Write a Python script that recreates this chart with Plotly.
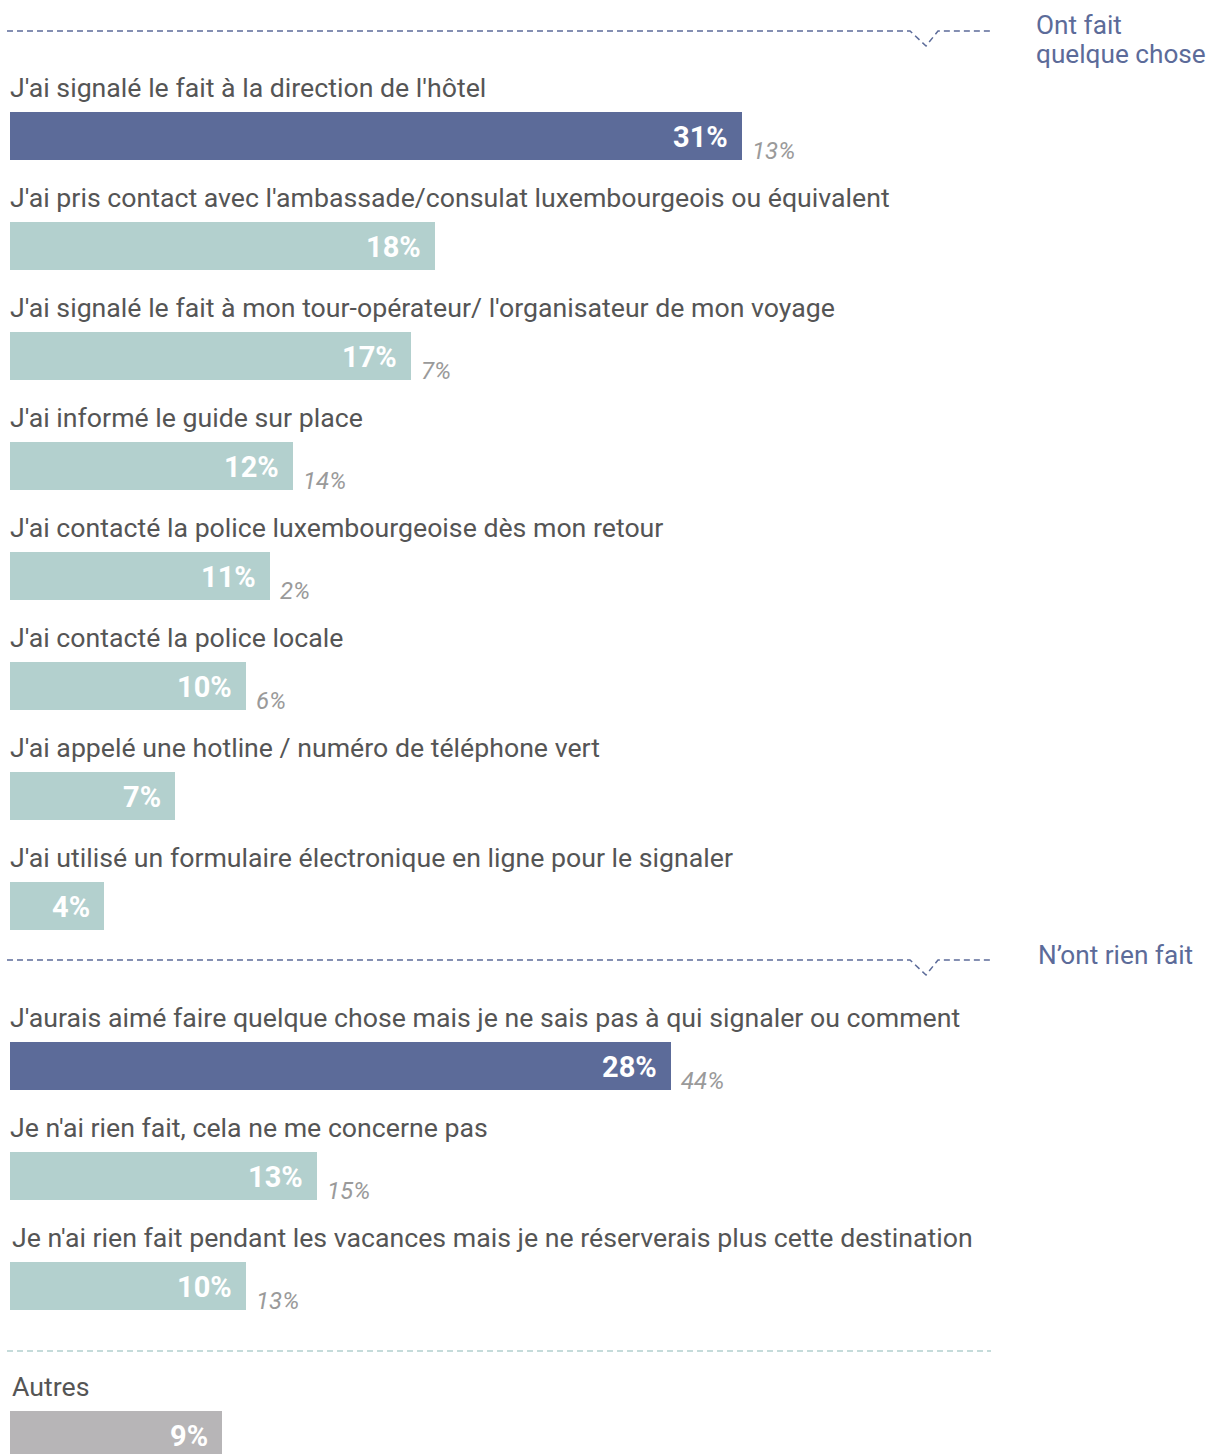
import plotly.graph_objects as go

# ---------------- data ----------------
acted_labels = [
    "J'ai signalé le fait à la direction de l'hôtel",
    "J'ai pris contact avec l'ambassade/consulat luxembourgeois ou équivalent",
    "J'ai signalé le fait à mon tour-opérateur/ l'organisateur de mon voyage",
    "J'ai informé le guide sur place",
    "J'ai contacté la police luxembourgeoise dès mon retour",
    "J'ai contacté la police locale",
    "J'ai appelé une hotline / numéro de téléphone vert",
    "J'ai utilisé un formulaire électronique en ligne pour le signaler",
]
acted_values = [31, 18, 17, 12, 11, 10, 7, 4]
acted_secondary = [13, None, 7, 14, 2, 6, None, None]

nothing_labels = [
    "J'aurais aimé faire quelque chose mais je ne sais pas à qui signaler ou comment",
    "Je n'ai rien fait, cela ne me concerne pas",
    "Je n'ai rien fait pendant les vacances mais je ne réserverais plus cette destination",
]
nothing_values = [28, 13, 10]
nothing_secondary = [44, 15, 13]

other_labels = ["Autres"]
other_values = [9]
other_secondary = [None]

group1_title_lines = ["Ont fait", "quelque chose"]
group2_title = "N\u2019ont rien fait"

# ---------------- styling / layout ----------------
W, H = 1211, 1454
PX_PER_PCT = 23.6
X0 = 10
DARK = "#5c6b99"
TEAL = "#b3d0ce"
GREY = "#b7b5b7"
LABEL_COL = "#555555"
SEC_COL = "#9a9a9a"
FONT = "Roboto"

rows = []  # label, value, secondary, color, y-center, label x-offset
for i, (l, v, s) in enumerate(zip(acted_labels, acted_values, acted_secondary)):
    rows.append((l, v, s, DARK if i == 0 else TEAL, 136 + i * 110.07, 0))
for i, (l, v, s) in enumerate(zip(nothing_labels, nothing_values, nothing_secondary)):
    rows.append((l, v, s, DARK if i == 0 else TEAL, 1066 + i * 109.75, 2 if i == 2 else 0))
for i, (l, v, s) in enumerate(zip(other_labels, other_values, other_secondary)):
    rows.append((l, v, s, GREY, 1435 + i * 110, 2))

fig = go.Figure()
fig.add_trace(go.Bar(
    x=[r[1] for r in rows],
    y=[r[4] for r in rows],
    orientation="h",
    width=48,
    marker=dict(color=[r[3] for r in rows], line=dict(width=0)),
    hoverinfo="skip",
    showlegend=False,
))

ann = []
for label, v, s, c, yc, dx in rows:
    ann.append(dict(x=0, y=yc - 48, xref="x", yref="y", text=label, showarrow=False,
                    xanchor="left", yanchor="middle", xshift=-2 + dx,
                    font=dict(family=FONT, size=26.7, color=LABEL_COL)))
    ann.append(dict(x=v, y=yc + 1, xref="x", yref="y", text="<b>%d%%</b>" % v, showarrow=False,
                    xanchor="right", yanchor="middle", xshift=-12,
                    font=dict(family=FONT, size=29, color="white")))
    if s is not None:
        ann.append(dict(x=v, y=yc + 15, xref="x", yref="y", text="<i>%d%%</i>" % s, showarrow=False,
                        xanchor="left", yanchor="middle", xshift=8,
                        font=dict(family=FONT, size=24, color=SEC_COL)))

for k, line in enumerate(group1_title_lines):
    ann.append(dict(x=1034 / W, y=25 + 29 * k, xref="paper", yref="y", text=line, showarrow=False,
                    xanchor="left", yanchor="middle", align="left",
                    font=dict(family=FONT, size=26.2, color=DARK)))
ann.append(dict(x=1036 / W, y=955, xref="paper", yref="y", text=group2_title, showarrow=False,
                xanchor="left", yanchor="middle", align="left",
                font=dict(family=FONT, size=26.2, color=DARK)))


def sep_path(y):
    p = lambda px: px / W
    return "M %f,%f L %f,%f L %f,%f L %f,%f L %f,%f" % (
        p(7), y, p(910), y, p(926), y + 15, p(938), y, p(993), y)


shapes = [
    dict(type="path", xref="paper", yref="y", path=sep_path(31),
         line=dict(color=DARK, width=1.5, dash="6px,4px")),
    dict(type="path", xref="paper", yref="y", path=sep_path(960),
         line=dict(color=DARK, width=1.5, dash="6px,4px")),
    dict(type="line", xref="paper", yref="y", x0=7 / W, x1=991 / W, y0=1351, y1=1351,
         line=dict(color=TEAL, width=1.5, dash="6px,4px")),
]

fig.update_layout(
    width=W, height=H,
    margin=dict(l=0, r=0, t=0, b=0),
    paper_bgcolor="white", plot_bgcolor="white",
    xaxis=dict(range=[-X0 / PX_PER_PCT, (W - X0) / PX_PER_PCT], visible=False, fixedrange=True),
    yaxis=dict(range=[H, 0], visible=False, fixedrange=True),
    annotations=ann,
    shapes=shapes,
    bargap=0,
)

fig.write_html("out.html", config=dict(displayModeBar=False),
               post_script="document.body.style.margin='0';document.body.style.overflow='hidden';")
